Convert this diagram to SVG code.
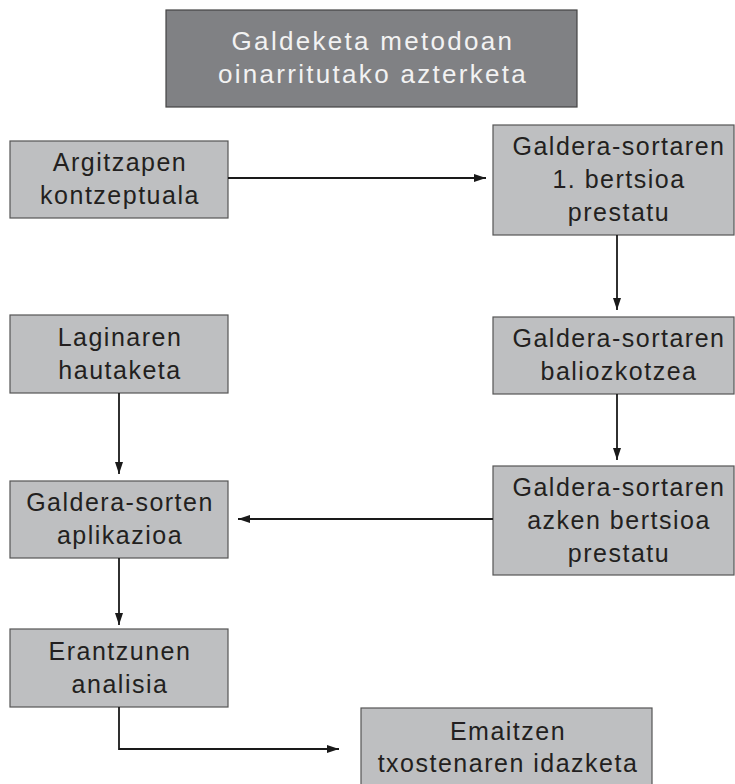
<svg xmlns="http://www.w3.org/2000/svg" width="735" height="784" viewBox="0 0 735 784">
<style>
.box{fill:#bebfc1;stroke:#555;stroke-width:1.2}
.title{fill:#808184;stroke:#444;stroke-width:1.2}
.t{font-family:"Liberation Sans",Arial,sans-serif;font-size:25px;fill:#231f20;text-anchor:middle;letter-spacing:1.5px}
.tt{font-family:"Liberation Sans",Arial,sans-serif;font-size:26px;fill:#f2f2f2;text-anchor:middle;letter-spacing:2.3px}
.c{fill:none;stroke:#1a1a1a;stroke-width:1.8}
</style>
<defs>
<marker id="ah" markerUnits="userSpaceOnUse" markerWidth="12" markerHeight="10" refX="12" refY="4" orient="auto">
<path d="M0,0 L12,4 L0,8 z" fill="#1a1a1a"/>
</marker>
</defs>
<g id="title">
<rect class="title" x="166" y="10" width="411" height="97"/>
<text class="tt" x="373" y="50">Galdeketa metodoan</text>
<text class="tt" x="373" y="83">oinarritutako azterketa</text>
</g>
<g id="argitzapen">
<rect class="box" x="10" y="141" width="218" height="77"/>
<text class="t" x="120" y="171">Argitzapen</text>
<text class="t" x="120" y="204">kontzeptuala</text>
</g>
<g id="bertsioa1">
<rect class="box" x="493" y="125" width="241" height="110"/>
<text class="t" x="619" y="155">Galdera-sortaren</text>
<text class="t" x="619" y="188">1. bertsioa</text>
<text class="t" x="619" y="221">prestatu</text>
</g>
<g id="laginaren">
<rect class="box" x="10" y="315" width="218" height="78"/>
<text class="t" x="120" y="346">Laginaren</text>
<text class="t" x="120" y="379">hautaketa</text>
</g>
<g id="baliozkotzea">
<rect class="box" x="493" y="317" width="241" height="77"/>
<text class="t" x="619" y="347">Galdera-sortaren</text>
<text class="t" x="619" y="380">baliozkotzea</text>
</g>
<g id="aplikazioa">
<rect class="box" x="10" y="481" width="218" height="77"/>
<text class="t" x="120" y="511">Galdera-sorten</text>
<text class="t" x="120" y="544">aplikazioa</text>
</g>
<g id="azken">
<rect class="box" x="493" y="466" width="241" height="109"/>
<text class="t" x="619" y="496">Galdera-sortaren</text>
<text class="t" x="619" y="529">azken bertsioa</text>
<text class="t" x="619" y="562">prestatu</text>
</g>
<g id="erantzunen">
<rect class="box" x="10" y="629" width="218" height="78"/>
<text class="t" x="120" y="660">Erantzunen</text>
<text class="t" x="120" y="693">analisia</text>
</g>
<g id="emaitzen">
<rect class="box" x="361" y="708" width="291" height="80"/>
<text class="t" x="508" y="740">Emaitzen</text>
<text class="t" x="508" y="772">txostenaren idazketa</text>
</g>
<g id="connectors">
<line class="c" x1="228" y1="178" x2="486" y2="178" marker-end="url(#ah)"/>
<line class="c" x1="617" y1="235" x2="617" y2="310" marker-end="url(#ah)"/>
<line class="c" x1="617" y1="394" x2="617" y2="460" marker-end="url(#ah)"/>
<line class="c" x1="493" y1="519" x2="238" y2="519" marker-end="url(#ah)"/>
<line class="c" x1="119" y1="393" x2="119" y2="474" marker-end="url(#ah)"/>
<line class="c" x1="119" y1="558" x2="119" y2="625" marker-end="url(#ah)"/>
<polyline class="c" points="119,707 119,749 339,749" marker-end="url(#ah)"/>
</g>
</svg>
